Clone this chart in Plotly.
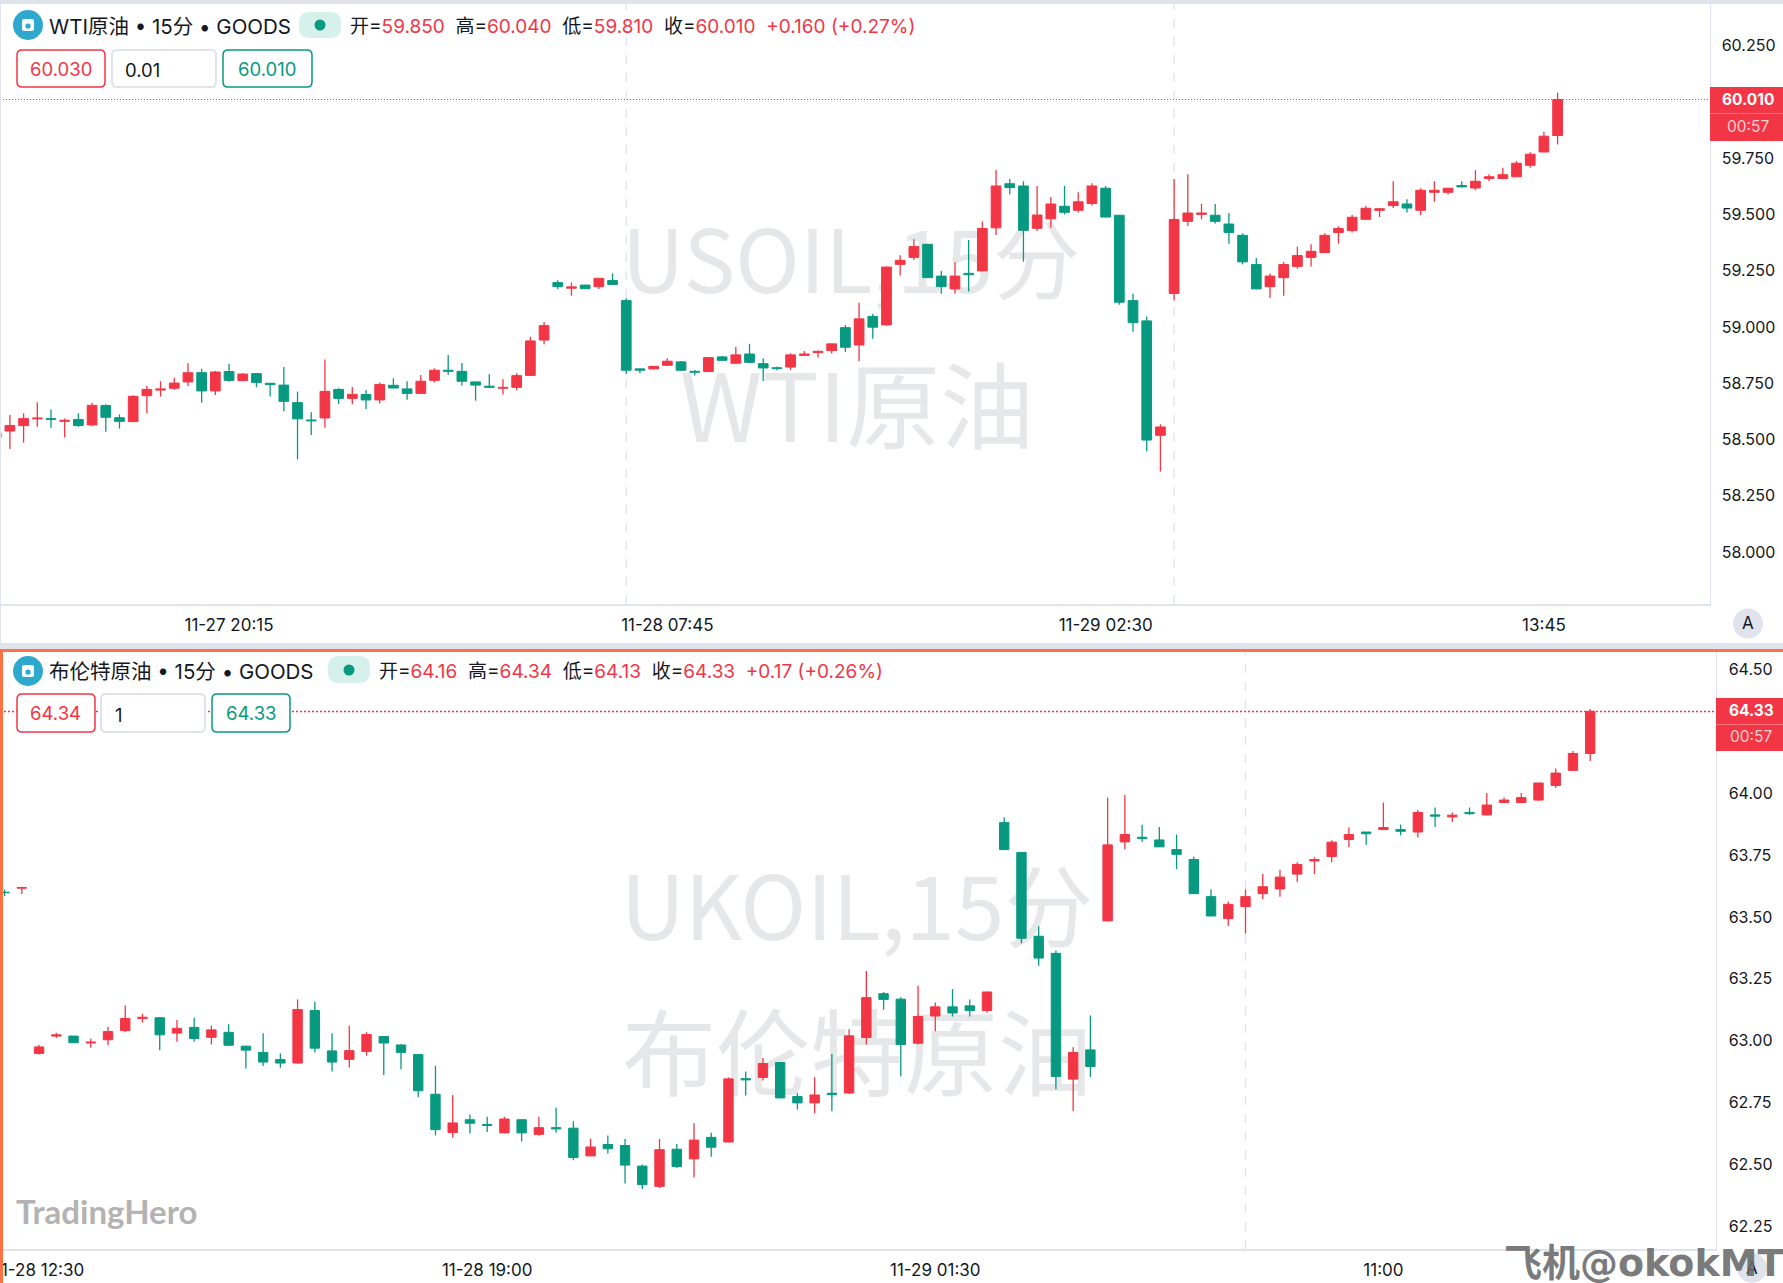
import plotly.graph_objects as go

# ── CONFIGURATION ──────────────────────────────
W, H = 1783, 1283
RED = "#F23645"
GREEN = "#089981"
LINE = "#E0E3EB"
ORANGE = "#FF7043"
INK = "#131722"
FONT = "Inter, Noto Sans CJK SC"
CJK_FONT = "Noto Sans CJK SC"

# ── WTI DATA (15 min candles) ──────────────────
wti_open = [58.51, 58.538, 58.562, 58.592, 58.593, 58.581, 58.589, 58.565, 58.651, 58.597,
            58.580, 58.695, 58.720, 58.728, 58.756, 58.797, 58.716, 58.802, 58.762, 58.793,
            58.750, 58.742, 58.664, 58.587, 58.596, 58.723, 58.683, 58.700, 58.676, 58.741,
            58.725, 58.705, 58.763, 58.808, 58.803, 58.756, 58.737, 58.728, 58.732, 58.785,
            58.942, 59.197, 59.172, 59.186, 59.179, 59.206, 59.117, 58.814, 58.814, 58.830,
            58.845, 58.803, 58.802, 58.867, 58.839, 58.880, 58.837, 58.819, 58.822, 58.874,
            58.886, 58.895, 58.997, 58.920, 59.047, 59.009, 59.278, 59.309, 59.367, 59.226,
            59.169, 59.238, 59.249, 59.440, 59.636, 59.626, 59.438, 59.480, 59.536, 59.518,
            59.548, 59.616, 59.496, 59.117, 59.027, 58.519, 59.149, 59.469, 59.500, 59.496,
            59.457, 59.407, 59.277, 59.179, 59.219, 59.269, 59.309, 59.330, 59.419, 59.428,
            59.478, 59.518, 59.539, 59.546, 59.518, 59.598, 59.598, 59.628, 59.617, 59.659,
            59.659, 59.667, 59.718, 59.777, 59.85]
wti_high = [58.535, 58.609, 58.617, 58.666, 58.634, 58.594, 58.617, 58.664, 58.657, 58.612,
            58.697, 58.738, 58.759, 58.774, 58.839, 58.815, 58.805, 58.837, 58.796, 58.794,
            58.750, 58.822, 58.713, 58.621, 58.856, 58.728, 58.734, 58.720, 58.754, 58.772,
            58.759, 58.787, 58.816, 58.876, 58.840, 58.757, 58.791, 58.768, 58.794, 58.956,
            59.022, 59.207, 59.198, 59.188, 59.216, 59.238, 59.127, 58.816, 58.825, 58.861,
            58.849, 58.809, 58.867, 58.871, 58.911, 58.925, 58.861, 58.825, 58.883, 58.893,
            58.896, 58.926, 59.009, 59.108, 59.058, 59.268, 59.318, 59.389, 59.369, 59.249,
            59.289, 59.386, 59.468, 59.697, 59.657, 59.647, 59.626, 59.577, 59.626, 59.598,
            59.638, 59.626, 59.497, 59.147, 59.047, 58.568, 59.657, 59.678, 59.546, 59.546,
            59.506, 59.416, 59.306, 59.237, 59.289, 59.357, 59.367, 59.416, 59.447, 59.497,
            59.537, 59.527, 59.647, 59.567, 59.616, 59.647, 59.616, 59.647, 59.696, 59.678,
            59.707, 59.737, 59.776, 59.867, 60.04]
wti_low = [58.50, 58.458, 58.486, 58.557, 58.553, 58.509, 58.557, 58.559, 58.535, 58.549,
           58.578, 58.617, 58.691, 58.720, 58.738, 58.664, 58.698, 58.757, 58.759, 58.732,
           58.691, 58.626, 58.412, 58.520, 58.553, 58.658, 58.657, 58.636, 58.660, 58.728,
           58.677, 58.704, 58.754, 58.788, 58.740, 58.673, 58.731, 58.700, 58.719, 58.784,
           58.923, 59.169, 59.139, 59.167, 59.169, 59.188, 58.791, 58.794, 58.812, 58.828,
           58.806, 58.784, 58.800, 58.851, 58.837, 58.840, 58.760, 58.808, 58.809, 58.873,
           58.864, 58.882, 58.889, 58.848, 58.948, 59.007, 59.228, 59.297, 59.218, 59.148,
           59.148, 59.157, 59.247, 59.408, 59.588, 59.290, 59.426, 59.440, 59.499, 59.508,
           59.539, 59.487, 59.099, 58.979, 58.448, 58.358, 59.117, 59.448, 59.478, 59.459,
           59.370, 59.278, 59.167, 59.129, 59.139, 59.259, 59.268, 59.329, 59.369, 59.419,
           59.477, 59.488, 59.528, 59.508, 59.497, 59.556, 59.588, 59.619, 59.607, 59.647,
           59.657, 59.666, 59.707, 59.776, 59.81]
wti_close = [58.53, 58.562, 58.593, 58.596, 58.589, 58.586, 58.562, 58.652, 58.599, 58.581,
             58.692, 58.723, 58.725, 58.751, 58.797, 58.716, 58.800, 58.763, 58.791, 58.754,
             58.744, 58.670, 58.592, 58.583, 58.714, 58.683, 58.701, 58.676, 58.745, 58.729,
             58.705, 58.759, 58.808, 58.803, 58.759, 58.742, 58.732, 58.732, 58.784, 58.938,
             59.006, 59.179, 59.178, 59.170, 59.216, 59.189, 58.808, 58.808, 58.825, 58.848,
             58.808, 58.799, 58.864, 58.852, 58.876, 58.843, 58.818, 58.815, 58.876, 58.880,
             58.892, 58.925, 58.910, 59.036, 58.999, 59.266, 59.296, 59.357, 59.219, 59.179,
             59.226, 59.232, 59.437, 59.626, 59.619, 59.429, 59.497, 59.546, 59.509, 59.556,
             59.626, 59.488, 59.110, 59.019, 58.498, 58.556, 59.477, 59.506, 59.506, 59.469,
             59.419, 59.289, 59.169, 59.226, 59.277, 59.317, 59.336, 59.407, 59.437, 59.487,
             59.527, 59.525, 59.556, 59.528, 59.607, 59.607, 59.616, 59.622, 59.647, 59.667,
             59.676, 59.727, 59.767, 59.847, 60.01]
wti_ticks = [58.0, 58.25, 58.5, 58.75, 59.0, 59.25, 59.5, 59.75, 60.25]
wti_time_pos = [17, 49, 81, 113]
wti_time_text = ["11-27 20:15", "11-28 07:45", "11-29 02:30", "13:45"]
wti_session_breaks = [46, 86]
wti_last = 60.01

# ── BRENT DATA (15 min candles) ────────────────
brent_open = [63.600, 63.616, 62.949, 63.019, 63.019, 62.991, 63.004, 63.041, 63.090, 63.093,
              63.031, 63.054, 63.014, 63.034, 62.978, 62.953, 62.924, 62.910, 63.122, 62.959,
              62.925, 62.957, 63.017, 62.983, 62.944, 62.784, 62.629, 62.681, 62.662, 62.628,
              62.681, 62.622, 62.649, 62.647, 62.535, 62.581, 62.577, 62.494, 62.412, 62.562,
              62.523, 62.610, 62.591, 62.847, 62.852, 62.912, 62.775, 62.749, 62.788, 62.789,
              63.013, 63.190, 63.168, 62.990, 63.100, 63.137, 63.141, 63.122, 63.881, 63.760,
              63.422, 63.353, 62.845, 62.963, 63.484, 63.803, 63.822, 63.811, 63.772, 63.732,
              63.582, 63.493, 63.542, 63.594, 63.613, 63.673, 63.726, 63.744, 63.813, 63.843,
              63.853, 63.853, 63.843, 63.912, 63.904, 63.922, 63.912, 63.962, 63.962, 63.972,
              64.031, 64.092, 64.16]
brent_high = [63.611, 63.619, 62.983, 63.032, 63.019, 63.008, 63.057, 63.142, 63.109, 63.095,
              63.084, 63.093, 63.061, 63.067, 62.980, 63.030, 62.949, 63.167, 63.158, 63.030,
              63.061, 63.035, 63.018, 62.985, 62.947, 62.899, 62.781, 62.702, 62.693, 62.693,
              62.683, 62.693, 62.729, 62.675, 62.605, 62.617, 62.603, 62.500, 62.603, 62.583,
              62.667, 62.628, 62.852, 62.876, 62.930, 62.914, 62.789, 62.853, 62.947, 63.046,
              63.282, 63.197, 63.176, 63.222, 63.155, 63.209, 63.167, 63.198, 63.903, 63.761,
              63.462, 63.364, 62.974, 63.102, 63.982, 63.992, 63.872, 63.863, 63.833, 63.743,
              63.612, 63.562, 63.612, 63.673, 63.691, 63.721, 63.741, 63.810, 63.861, 63.843,
              63.962, 63.873, 63.932, 63.942, 63.922, 63.942, 64.001, 63.982, 64.001, 64.041,
              64.100, 64.170, 64.34]
brent_low = [63.584, 63.593, 62.944, 63.012, 62.991, 62.972, 62.982, 63.034, 63.073, 62.962,
             62.996, 62.996, 62.985, 62.980, 62.888, 62.898, 62.891, 62.908, 62.953, 62.876,
             62.892, 62.940, 62.862, 62.885, 62.772, 62.618, 62.608, 62.625, 62.632, 62.626,
             62.593, 62.616, 62.628, 62.517, 62.534, 62.545, 62.424, 62.401, 62.405, 62.486,
             62.448, 62.532, 62.590, 62.779, 62.839, 62.768, 62.722, 62.707, 62.715, 62.785,
             62.985, 63.125, 62.857, 62.985, 63.038, 63.098, 63.098, 63.114, 63.770, 63.393,
             63.303, 62.804, 62.715, 62.854, 63.482, 63.772, 63.803, 63.782, 63.693, 63.593,
             63.503, 63.463, 63.433, 63.572, 63.582, 63.641, 63.673, 63.721, 63.782, 63.792,
             63.851, 63.830, 63.821, 63.863, 63.883, 63.912, 63.911, 63.960, 63.960, 63.970,
             64.021, 64.091, 64.13]
brent_close = [63.598, 63.619, 62.975, 63.024, 62.992, 62.995, 63.037, 63.090, 63.095, 63.024,
               63.050, 63.009, 63.044, 62.982, 62.962, 62.914, 62.910, 63.126, 62.970, 62.914,
               62.960, 63.025, 62.991, 62.953, 62.798, 62.641, 62.668, 62.667, 62.658, 62.684,
               62.628, 62.649, 62.644, 62.528, 62.571, 62.564, 62.498, 62.419, 62.560, 62.492,
               62.599, 62.570, 62.846, 62.842, 62.908, 62.769, 62.749, 62.781, 62.783, 63.020,
               63.174, 63.167, 62.985, 63.098, 63.137, 63.112, 63.122, 63.197, 63.772, 63.414,
               63.334, 62.856, 62.953, 62.896, 63.791, 63.833, 63.817, 63.783, 63.753, 63.594,
               63.504, 63.551, 63.582, 63.622, 63.661, 63.712, 63.732, 63.802, 63.833, 63.836,
               63.861, 63.846, 63.922, 63.907, 63.911, 63.917, 63.952, 63.972, 63.982, 64.041,
               64.081, 64.160, 64.33]
brent_ticks = [62.25, 62.5, 62.75, 63.0, 63.25, 63.5, 63.75, 64.0, 64.5]
brent_time_pos = [2, 28, 54, 80]
brent_time_text = ["11-28 12:30", "11-28 19:00", "11-29 01:30", "11:00"]
brent_session_breaks = [72]
brent_last = 64.33


# ── HELPERS ────────────────────────────────────
def px(x):
    return x / W


def py(y):
    return 1 - y / H


def add_candles(fig, opens, highs, lows, closes, width, xa, ya):
    # bodies are bars, wicks are one broken line per colour
    for color, is_up in ((RED, True), (GREEN, False)):
        idx = [i for i in range(len(opens)) if (closes[i] >= opens[i]) == is_up]
        wick_x, wick_y = [], []
        for i in idx:
            wick_x += [i, i, None]
            wick_y += [lows[i], highs[i], None]
        fig.add_trace(go.Scatter(x=wick_x, y=wick_y, mode="lines", xaxis=xa, yaxis=ya,
                                 line=dict(color=color, width=1.3), hoverinfo="skip"))
        fig.add_trace(go.Bar(x=idx,
                             y=[abs(closes[i] - opens[i]) for i in idx],
                             base=[min(closes[i], opens[i]) for i in idx],
                             width=width, xaxis=xa, yaxis=ya,
                             marker=dict(color=color, line=dict(color=color, width=1))))


def rect(x0, y0, x1, y1, fill, line_color=None, line_width=0, layer="above"):
    fig.add_shape(type="rect", xref="paper", yref="paper",
                  x0=px(x0), x1=px(x1), y0=py(y0), y1=py(y1), layer=layer,
                  fillcolor=fill, line=dict(color=line_color or fill, width=line_width))


def round_rect(x0, y0, x1, y1, r, fill, line_color, line_width):
    path = (f"M {px(x0 + r)} {py(y0)} L {px(x1 - r)} {py(y0)} "
            f"Q {px(x1)} {py(y0)} {px(x1)} {py(y0 + r)} L {px(x1)} {py(y1 - r)} "
            f"Q {px(x1)} {py(y1)} {px(x1 - r)} {py(y1)} L {px(x0 + r)} {py(y1)} "
            f"Q {px(x0)} {py(y1)} {px(x0)} {py(y1 - r)} L {px(x0)} {py(y0 + r)} "
            f"Q {px(x0)} {py(y0)} {px(x0 + r)} {py(y0)} Z")
    fig.add_shape(type="path", xref="paper", yref="paper", path=path,
                  fillcolor=fill, line=dict(color=line_color, width=line_width))


def circle(cx, cy, r, fill):
    fig.add_shape(type="circle", xref="paper", yref="paper",
                  x0=px(cx - r), x1=px(cx + r), y0=py(cy - r), y1=py(cy + r),
                  fillcolor=fill, line=dict(width=0))


def label(x, y, text, size=17, color=INK, anchor="left", font=FONT):
    fig.add_annotation(x=px(x), y=py(y), xref="paper", yref="paper", text=text,
                       showarrow=False, xanchor=anchor, yanchor="middle",
                       font=dict(family=font, size=size, color=color))


def watermark(cx, cy, text, size):
    # a below-layer shape label keeps the big text underneath the candles
    fig.add_shape(type="rect", xref="paper", yref="paper", layer="below",
                  x0=px(cx - 350), x1=px(cx + 350), y0=py(cy + 70), y1=py(cy - 70),
                  fillcolor="rgba(0,0,0,0)", line=dict(width=0),
                  label=dict(text=text, textposition="middle center",
                             font=dict(family=CJK_FONT, size=size, color="#E6E7E9")))


def symbol_icon(cx, cy):
    circle(cx, cy, 15, "#2EA8CC")
    round_rect(cx - 6, cy - 6, cx + 6, cy + 6, 2, "#F4FAFC", "#F4FAFC", 0)
    circle(cx, cy + 1, 2.6, "#2EA8CC")


def ohlc_text(pairs, change):
    parts = [f"{name}=<span style='color:{RED}'>{val}</span>" for name, val in pairs]
    return "  ".join(parts) + f"  <span style='color:{RED}'>{change}</span>"


# ── FIGURE ─────────────────────────────────────
fig = go.Figure()
add_candles(fig, wti_open, wti_high, wti_low, wti_close, 0.71, "x", "y")
add_candles(fig, brent_open, brent_high, brent_low, brent_close, 0.545, "x2", "y2")

price_font = dict(family=FONT, size=16, color=INK)
time_font = dict(family=FONT, size=17, color=INK)
fig.update_layout(
    template="none",
    width=W, height=H,
    margin=dict(l=0, r=0, t=0, b=0),
    paper_bgcolor="white", plot_bgcolor="white",
    showlegend=False, barmode="overlay", hovermode=False,
    xaxis=dict(domain=[0, px(1709.5)], range=[0.277, 125.09], anchor="y", automargin=False,
               tickmode="array", tickvals=wti_time_pos, ticktext=wti_time_text,
               ticks="outside", ticklen=5, tickcolor="rgba(0,0,0,0)", tickfont=time_font,
               showgrid=False, zeroline=False, showline=True, linecolor=LINE, linewidth=1.5),
    yaxis=dict(domain=[py(604), py(4)], range=[57.770, 60.434], anchor="x", side="right", automargin=False,
               tickmode="array", tickvals=wti_ticks, tickformat=".3f",
               ticks="outside", ticklen=8, tickcolor="rgba(0,0,0,0)", tickfont=price_font,
               showgrid=False, zeroline=False, showline=True, linecolor=LINE, linewidth=1),
    xaxis2=dict(domain=[0, px(1715.5)], range=[-0.267, 99.27], anchor="y2", automargin=False,
                tickmode="array", tickvals=brent_time_pos, ticktext=brent_time_text,
                ticks="outside", ticklen=5, tickcolor="rgba(0,0,0,0)", tickfont=time_font,
                ticklabeloverflow="allow",
                showgrid=False, zeroline=False, showline=True, linecolor=LINE, linewidth=1.5),
    yaxis2=dict(domain=[py(1249), py(652)], range=[62.159, 64.570], anchor="x2", side="right", automargin=False,
                tickmode="array", tickvals=brent_ticks, tickformat=".2f",
                ticks="outside", ticklen=9, tickcolor="rgba(0,0,0,0)", tickfont=price_font,
                showgrid=False, zeroline=False, showline=True, linecolor=LINE, linewidth=1),
)

# ── WATERMARKS ─────────────────────────────────
watermark(851, 269, "USOIL,15分", 87)
watermark(857, 416, "WTI原油", 94)
watermark(857, 915, "UKOIL,15分", 89)
watermark(857, 1063, "布伦特原油", 94)

# ── SESSION BREAKS & LAST PRICE LINES ──────────
for pos in wti_session_breaks:
    fig.add_shape(type="line", xref="x", yref="y domain", x0=pos, x1=pos, y0=0, y1=1, layer="below",
                  line=dict(color=LINE, width=1.3, dash="dash"))
for pos in brent_session_breaks:
    fig.add_shape(type="line", xref="x2", yref="y2 domain", x0=pos, x1=pos, y0=0, y1=1, layer="below",
                  line=dict(color=LINE, width=1.3, dash="dash"))
fig.add_shape(type="line", xref="x domain", yref="y", x0=0, x1=1, y0=wti_last, y1=wti_last,
              line=dict(color=RED, width=1.2, dash="1px,2px"))
fig.add_shape(type="line", xref="x2 domain", yref="y2", x0=0, x1=1, y0=brent_last, y1=brent_last,
              line=dict(color=RED, width=1.5, dash="2px,2px"))

# ── FRAME ──────────────────────────────────────
rect(0, 0, W, 4, LINE)
rect(0, 4, 1, 643, LINE)
rect(0, 643, W, 649, LINE)
rect(0, 649, W, 652, ORANGE)
rect(0, 649, 3, H, ORANGE)

# ── WTI HEADER ─────────────────────────────────
symbol_icon(28, 25)
label(47, 26.5, "WTI原油 • 15分 • GOODS", 20.5)
round_rect(299, 12, 341, 38, 11, "#D6F0EB", "#D6F0EB", 0)
circle(320, 25, 5.5, GREEN)
label(348, 26.5, ohlc_text([("开", "59.850"), ("高", "60.040"), ("低", "59.810"), ("收", "60.010")],
                           "+0.160 (+0.27%)"), 19)
round_rect(17, 50, 105, 87, 5, "white", RED, 1.5)
round_rect(112, 50, 216, 87, 5, "white", LINE, 2)
round_rect(223, 50, 312, 87, 5, "white", GREEN, 1.5)
label(61, 69, "60.030", 18.5, RED, "center")
label(123, 70, "0.01", 18.5)
label(267, 69, "60.010", 18.5, GREEN, "center")

# ── BRENT HEADER ───────────────────────────────
symbol_icon(28, 671)
label(47, 671.5, "布伦特原油 • 15分 • GOODS", 20.5)
round_rect(328, 656, 370, 683, 11, "#D6F0EB", "#D6F0EB", 0)
circle(349, 670, 5.5, GREEN)
label(377, 671.5, ohlc_text([("开", "64.16"), ("高", "64.34"), ("低", "64.13"), ("收", "64.33")],
                            "+0.17 (+0.26%)"), 19)
round_rect(17, 694, 95, 732, 5, "white", RED, 1.5)
round_rect(101, 694, 205, 732, 5, "white", LINE, 2)
round_rect(212, 694, 290, 732, 5, "white", GREEN, 1.5)
label(55, 713.5, "64.34", 18.5, RED, "center")
label(113, 715, "1", 18.5)
label(251, 713.5, "64.33", 18.5, GREEN, "center")

# ── PRICE TAGS ─────────────────────────────────
rect(1710, 87, W, 141, RED)
rect(1710, 113, W, 114, "#F7737E")
label(1748, 99, "<b>60.010</b>", 15.5, "white", "center")
label(1748, 126, "00:57", 15.5, "#FBD0D4", "center")
rect(1716, 698, W, 751, RED)
rect(1716, 724, W, 725, "#F7737E")
label(1751, 710, "<b>64.33</b>", 15.5, "white", "center")
label(1751, 737, "00:57", 15.5, "#FBD0D4", "center")

# ── AUTO SCALE BUTTONS & CORNER MARKS ──────────
circle(1748, 623.5, 15, LINE)
label(1748, 623.5, "A", 17, INK, "center")
circle(1752, 1268, 15, LINE)
label(1752, 1268, "A", 17, INK, "center")
label(14, 1211, "<b>TradingHero</b>", 33, "#B3B3B3", "left", "Lato")
label(1502, 1263, "<b>飞机@okokMT</b>", 38, "rgba(105,105,105,0.9)", "left", "DejaVu Sans, Noto Sans CJK SC")

fig.write_html("out.html", config={"displayModeBar": False},
               post_script="document.body.style.margin='0';document.body.style.overflow='hidden';")
